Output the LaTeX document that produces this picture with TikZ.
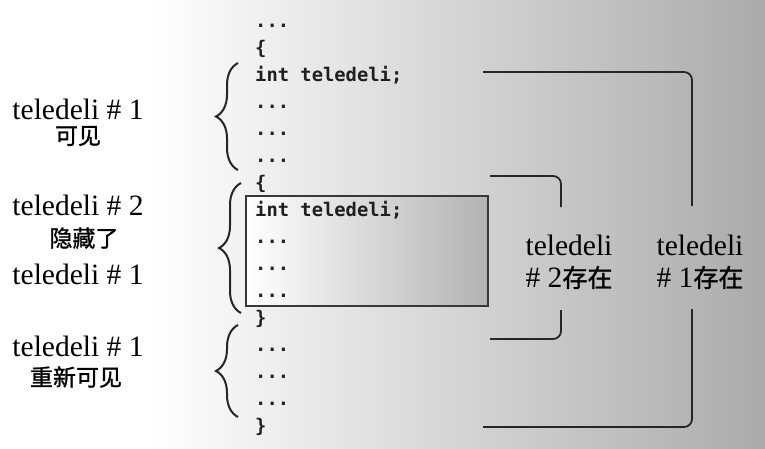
\documentclass[tikz,border=0pt]{standalone}
\usepackage{fontspec}
\setmainfont{Liberation Serif}
\newfontfamily\cjk[FakeBold=1.2]{Noto Sans CJK SC}
\newfontfamily\code{DejaVu Sans Mono}
\usetikzlibrary{decorations.pathreplacing}
\tikzset{
  codeline/.style={anchor=base west, inner sep=0pt, font=\code\bfseries\fontsize{18.8}{20}\selectfont, text=black!88},
  lbl/.style={anchor=base, inner sep=0pt, font=\fontsize{29.5}{30}\selectfont},
  cjklbl/.style={anchor=center, inner sep=0pt, font=\cjk\fontsize{23}{24}\selectfont},
  bracebar/.style={decorate, decoration={brace, amplitude=22pt, aspect=0.5}, line width=2pt, black!85},
  bracket/.style={line width=1.8pt, black!85, rounded corners=8pt},
  hidebox/.style={draw=black!78, line width=2.2pt, left color=white, right color=black!30}
}
\begin{document}
\begin{tikzpicture}[x=1pt,y=-1pt]
\useasboundingbox (0,0) rectangle (765,448);
\fill[white] (0,0) rectangle (765,448);
\shade[left color=white, right color=black!33] (150,0) rectangle (765,448);

% hidden box
\node[hidebox, anchor=north west, minimum width=242pt, minimum height=110pt, inner sep=0pt] (box) at (245,195) {};

% code lines
\node[codeline] (c1) at (255,27) {...};
\node[codeline] (c2) at (255,54) {\{};
\node[codeline] (c3) at (255,81) {int teledeli;};
\node[codeline] (c4) at (255,108) {...};
\node[codeline] (c5) at (255,135) {...};
\node[codeline] (c6) at (255,162) {...};
\node[codeline] (c7) at (255,189) {\{};
\node[codeline] (c8) at (255,216) {int teledeli;};
\node[codeline] (c9) at (255,243) {...};
\node[codeline] (c10) at (255,270) {...};
\node[codeline] (c11) at (255,297) {...};
\node[codeline] (c12) at (255,324) {\}};
\node[codeline] (c13) at (255,351) {...};
\node[codeline] (c14) at (255,378) {...};
\node[codeline] (c15) at (255,405) {...};
\node[codeline] (c16) at (255,432) {\}};

% left braces
\coordinate (b1t) at (238,63);  \coordinate (b1b) at (238,170);
\coordinate (b2t) at (241,183); \coordinate (b2b) at (241,313);
\coordinate (b3t) at (238,325); \coordinate (b3b) at (238,417);
\draw[bracebar] (b1b) -- (b1t);
\draw[bracebar] (b2b) -- (b2t);
\draw[bracebar] (b3b) -- (b3t);

% left labels
\node[lbl] (l1a) at (78,119) {teledeli \# 1};
\node[cjklbl] (l1b) at (78,136) {可见};
\node[lbl] (l2a) at (78,215) {teledeli \# 2};
\node[cjklbl] (l2b) at (84,238) {隐藏了};
\node[lbl] (l2c) at (78,284) {teledeli \# 1};
\node[lbl] (l3a) at (78,356) {teledeli \# 1};
\node[cjklbl] (l3b) at (76,377) {重新可见};

% right labels
\node[lbl] (r2a) at (569,255) {teledeli};
\node[lbl] (r2b) at (569,287) {\# 2{\cjk\fontsize{25}{26}\selectfont 存在}};
\node[lbl] (r1a) at (700,255) {teledeli};
\node[lbl] (r1b) at (700,287) {\# 1{\cjk\fontsize{25}{26}\selectfont 存在}};

% right brackets
\coordinate (s1) at (490,176); \coordinate (s2) at (561,207);
\coordinate (s3) at (561,310); \coordinate (s4) at (490,339);
\draw[bracket] (s1) -| (s2);
\draw[bracket] (s3) |- (s4);
\coordinate (g1) at (483,72);  \coordinate (g2) at (692,206);
\coordinate (g3) at (692,309); \coordinate (g4) at (483,427);
\draw[bracket] (g1) -| (g2);
\draw[bracket] (g3) |- (g4);
\end{tikzpicture}
\end{document}
